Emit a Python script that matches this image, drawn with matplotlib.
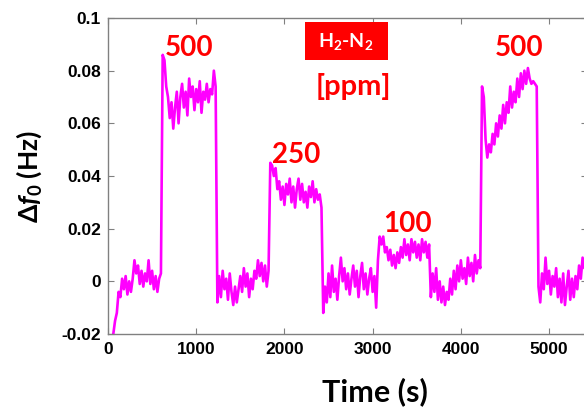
import matplotlib

matplotlib.use("Agg")
import matplotlib.pyplot as plt
import numpy as np
from matplotlib.patches import Rectangle

T_START = 60
T_STEP = 20

base_1 = [-20, -15, -12, -4, -6, 1, -3, 2, -5, 0, -4, 1, 8, 3, 6, -1, 4, -2, 3, 0,
          8, -1, 4, -3, 2, -4, 1, 3]
pulse_500a = [86, 84, 74, 70, 62, 68, 58, 66, 72, 60, 70, 75, 66, 72, 63, 77, 70, 74,
              65, 73, 68, 76, 64, 72, 69, 75, 68, 73, 71, 80, 74]
base_2 = [-8, 2, -6, 4, -3, 1, -7, 3, -4, -9, -2, -8, -3, 2, -4, 5, -2, 3, -6, 1,
          -3, 4, 1, 8, 2, 7, 0, 6, -2, 4]
pulse_250 = [45, 44, 40, 43, 35, 38, 31, 36, 29, 37, 33, 39, 30, 36, 28, 35, 39, 31,
             37, 30, 34, 28, 36, 32, 38, 30, 35, 31, 33, 28]
base_3 = [-12, -2, -8, 3, -6, 6, -4, 1, -7, 2, 9, 0, 5, -3, 3, -5, 1, 6, -2, 4,
          -6, 2, 7, -3, 3, -5, 1, 5, -4, 2, -10, 8]
pulse_100 = [17, 14, 17, 11, 13, 8, 12, 6, 10, 5, 11, 7, 13, 9, 16, 10, 14, 8, 16, 11,
             15, 9, 14, 8, 16, 11, 15, 9, 14]
base_4 = [-6, 3, -4, 5, -7, 0, -8, -2, -9, -4, -7, 1, -5, 4, -3, 6, 0, 8, 1, 5,
          -1, 9, 2, 7, 0, 10, 3, 8, 5]
pulse_500b = [74, 70, 54, 47, 52, 49, 56, 52, 60, 55, 63, 58, 67, 60, 68, 64, 74, 66,
              72, 68, 77, 70, 79, 73, 80, 75, 81, 77, 75, 76, 75, 74]
base_5 = [-2, -8, 3, -3, 9, -1, 4, -5, 2, -2, 5, -6, 1, -8, 3, -9, -2, 4, -7, 1,
          -6, 2, -3, 6, 1, 9, 5, 13]

y_ticks = [-0.02, 0, 0.02, 0.04, 0.06, 0.08, 0.1]
y_tick_labels = ["-0.02", "0", "0.02", "0.04", "0.06", "0.08", "0.1"]
x_ticks = [0, 1000, 2000, 3000, 4000, 5000]

# concentration labels: (text, time, value at text centre)
conc_labels = [("500", 918, 0.0885), ("250", 2131, 0.0480),
               ("100", 3396, 0.0219), ("500", 4665, 0.0885)]

# ---- assemble ----
values_mhz = np.concatenate([base_1, pulse_500a, base_2, pulse_250, base_3,
                             pulse_100, base_4, pulse_500b, base_5])
delta_f = values_mhz / 1000.0
time_s = T_START + T_STEP * np.arange(len(delta_f))

plt.rcParams["mathtext.fontset"] = "custom"
plt.rcParams["mathtext.rm"] = "Lato:bold"
plt.rcParams["mathtext.it"] = "Lato:italic:bold"

W, H = 584, 407
fig = plt.figure(figsize=(W / 100, H / 100), dpi=100)
ax = fig.add_axes([108 / W, 1 - 334 / H, (587 - 108) / W, (334 - 18) / H])

ax.plot(time_s, delta_f, color="#ff00ff", lw=1.9)

ax.set_xlim(0, 5430)
ax.set_ylim(-0.02, 0.1)
ax.set_xticks(x_ticks)
ax.set_xticklabels([str(x) for x in x_ticks])
ax.set_yticks(y_ticks)
ax.set_yticklabels(y_tick_labels)

spine_gray = "#808080"
for s in ax.spines.values():
    s.set_color(spine_gray)
    s.set_linewidth(1.0)
ax.tick_params(direction="in", length=4, width=0.8, color=spine_gray,
               top=True, right=True, labelsize=12.5, labelcolor="black")
ax.tick_params(axis="y", pad=5)
ax.tick_params(axis="x", pad=6)
for lab in ax.get_xticklabels() + ax.get_yticklabels():
    lab.set_fontfamily("Liberation Sans")
    lab.set_fontweight("bold")

ax.set_ylabel(r"$\Delta f_0$ (Hz)", fontsize=19, family="Lato", fontweight="bold")
ax.yaxis.set_label_coords(-0.134, 0.5)
fig.text(375 / W, 1 - 392 / H, "Time (s)", fontsize=22, family="Lato",
         fontweight="bold", ha="center", va="center")

for text, t, v in conc_labels:
    ax.text(t, v, text, color="#ff0000", fontsize=20, family="Lato",
            fontweight="bold", ha="center", va="center")

fig.patches.append(Rectangle((305 / W, 1 - 60 / H), 83 / W, 38 / H,
                             transform=fig.transFigure, facecolor="#ff0000",
                             edgecolor="none"))
fig.text(346 / W, 1 - 42 / H, r"H$_2$-N$_2$", color="white", fontsize=14,
         family="Lato", fontweight="bold", ha="center", va="center")
fig.text(353 / W, 1 - 86 / H, "[ppm]", color="#ff0000", fontsize=21,
         family="Lato", fontweight="bold", ha="center", va="center")

fig.savefig("out.png", dpi=100)
